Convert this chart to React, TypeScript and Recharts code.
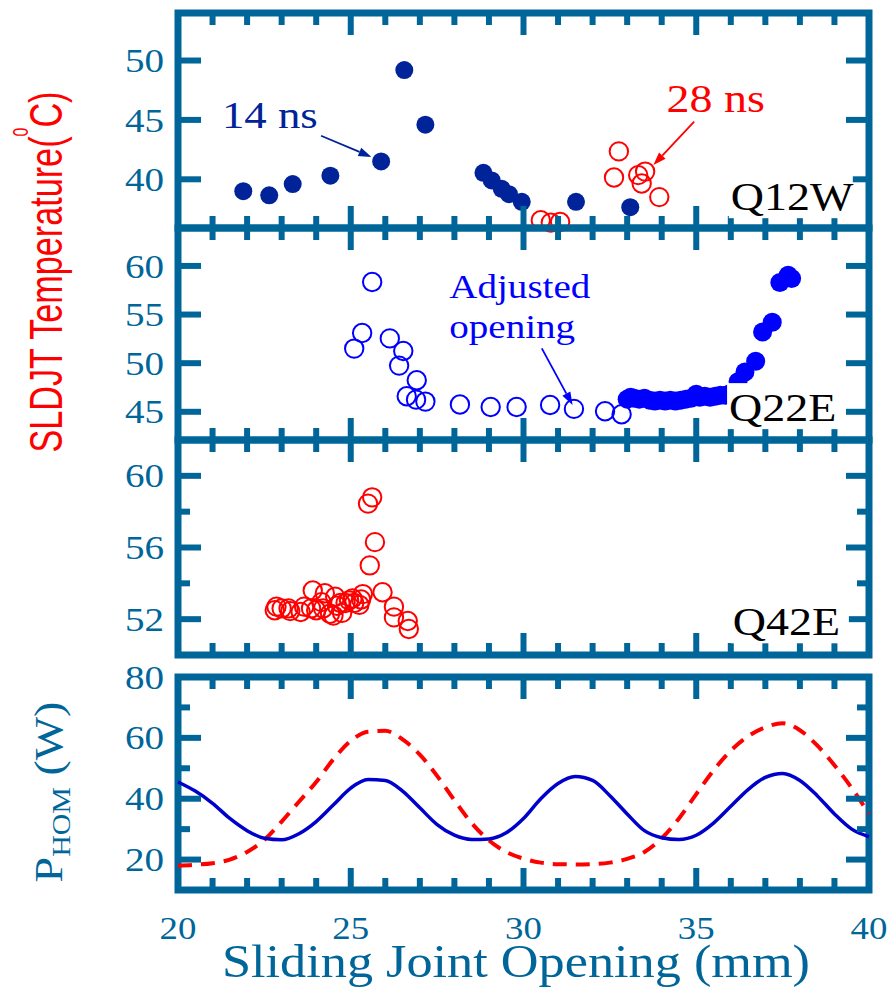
import React from 'react';
import {
  ScatterChart,
  LineChart,
  Scatter,
  Line,
  XAxis,
  YAxis,
  ReferenceArea,
  ReferenceDot,
  ReferenceLine,
} from 'recharts';

const AXIS = '#006699';
const NAVY = '#00239a';
const BLUE = '#0000ff';
const RED = '#ff0000';
const SERIF = '"Liberation Serif", "Times New Roman", serif';
const STRETCH = 1.15;

// ---------- shared x axis ----------
const xTicks = [20, 21, 22, 23, 24, 25, 26, 27, 28, 29, 30, 31, 32, 33, 34, 35, 36, 37, 38, 39, 40];
const xMajorTicks = [20, 25, 30, 35, 40];
const xTickLabels = [20, 25, 30, 35, 40];

// ---------- panel 1 : Q12W ----------
const q12wShortX = [21.89, 22.64, 23.32, 24.41, 25.88, 26.55, 27.16, 28.84, 29.08, 29.37, 29.58, 29.95, 31.52, 33.09];
const q12wShortY = [39.0, 38.65, 39.6, 40.3, 41.5, 49.2, 44.6, 40.55, 39.9, 39.2, 38.75, 38.1, 38.1, 37.65];
const q12wLongX = [30.5, 30.79, 31.06, 32.62, 32.76, 33.32, 33.42, 33.52, 33.93];
const q12wLongY = [36.55, 36.35, 36.4, 40.15, 42.35, 40.35, 39.65, 40.65, 38.5];
const p1Ticks = [40, 45, 50];
const p1Labels = [40, 45, 50];

// ---------- panel 2 : Q22E ----------
const q22eOpenX = [25.1, 25.33, 25.62, 26.13, 26.4, 26.52, 26.62, 26.89, 26.91, 27.16, 28.16, 29.05, 29.8, 30.77, 31.46, 32.36, 32.84];
const q22eOpenY = [51.5, 53.1, 58.35, 52.55, 49.75, 51.25, 46.6, 46.25, 48.25, 46.05, 45.75, 45.5, 45.5, 45.7, 45.3, 45.05, 44.75];
const q22eFillX = [33.0, 33.1, 33.2, 33.35, 33.5, 33.65, 33.8, 33.95, 34.1, 34.25, 34.4, 34.55, 34.7, 34.85, 35.0, 35.1, 35.25, 35.4, 35.55, 35.7, 35.85, 36.0, 36.21, 36.41, 36.72, 36.92, 37.2, 37.42, 37.66, 37.76];
const q22eFillY = [46.3, 46.5, 46.4, 46.3, 46.4, 46.2, 46.1, 46.2, 46.1, 46.2, 46.1, 46.2, 46.3, 46.4, 46.8, 46.5, 46.6, 46.5, 46.6, 46.7, 46.7, 46.9, 48.1, 49.1, 50.2, 53.2, 54.2, 58.3, 59.05, 58.7];
const p2Ticks = [45, 50, 55, 60];
const p2Labels = [45, 50, 55, 60];

// ---------- panel 3 : Q42E ----------
const q42eX = [22.8, 22.85, 23.0, 23.2, 23.25, 23.55, 23.65, 23.85, 23.9, 24.0, 24.15, 24.2, 24.25, 24.4, 24.5, 24.55, 24.6, 24.7, 24.75, 24.85, 24.95, 25.05, 25.1, 25.25, 25.3, 25.35, 25.55, 25.7, 25.5, 25.62, 25.92, 26.25, 26.25, 26.65, 26.68];
const q42eY = [52.5, 52.7, 52.6, 52.6, 52.45, 52.4, 52.7, 52.6, 53.6, 52.5, 52.95, 52.6, 53.45, 52.3, 52.2, 53.25, 52.75, 52.9, 52.35, 52.9, 53.05, 53.15, 52.9, 52.8, 53.1, 53.4, 55.0, 56.3, 58.45, 58.8, 53.5, 52.7, 52.1, 51.9, 51.45];
const p3Ticks = [52, 54, 56, 58, 60];
const p3Labels = [52, 56, 60];

// ---------- panel 4 : P_HOM ----------
const phomX = [20, 20.5, 21, 21.5, 22, 22.5, 23, 23.5, 24, 24.5, 25, 25.5, 26, 26.5, 27, 27.5, 28, 28.5, 29, 29.5, 30, 30.5, 31, 31.5, 32, 32.5, 33, 33.5, 34, 34.5, 35, 35.5, 36, 36.5, 37, 37.5, 38, 38.5, 39, 39.5, 40];
const phomSolid = [45.5, 42.5, 38.5, 33.5, 29.5, 27.0, 26.5, 28.5, 32.5, 38.0, 43.5, 46.3, 46.0, 42.5, 37.0, 31.5, 28.0, 26.6, 26.8, 28.8, 33.5, 40.0, 45.0, 47.3, 46.0, 41.0, 35.0, 29.5, 27.2, 26.6, 28.0, 32.0, 37.5, 43.0, 47.0, 48.3, 46.0, 41.0, 35.0, 30.0, 27.5];
const phomDashed = [18.0, 18.3, 18.8, 20.0, 22.5, 26.5, 32.5, 39.0, 45.5, 53.0, 59.0, 62.0, 62.3, 59.5, 54.5, 47.5, 39.5, 32.0, 26.3, 22.5, 20.3, 19.0, 18.5, 18.4, 18.5, 19.0, 20.2, 22.5, 27.0, 33.5, 41.5, 49.3, 55.8, 60.5, 63.5, 64.8, 62.5, 57.5, 51.0, 43.5, 35.0];
const p4Ticks = [20, 30, 40, 50, 60, 70, 80];
const p4Labels = [20, 40, 60, 80];

const zip = (xs: number[], ys: number[]) => xs.map((x, i) => ({ x, y: ys[i] }));
const phomData = phomX.map((x, i) => ({ x, solid: phomSolid[i], dashed: phomDashed[i] }));

const SText = ({ x, y, size, fill, anchor = 'start', baseline, children }: any) => (
  <text
    transform={`translate(${x},${y}) scale(${STRETCH},1)`}
    x={0}
    y={0}
    fontFamily={SERIF}
    fontSize={size}
    fill={fill}
    textAnchor={anchor}
    dominantBaseline={baseline}
  >
    {children}
  </text>
);

const makeXTick = (plotH: number, showLabels: boolean) => (props: any) => {
  const { x, y, payload } = props;
  const v = payload.value;
  const len = xMajorTicks.includes(v) ? 22 : 12;
  return (
    <g>
      <line x1={x} y1={y} x2={x} y2={y - len} stroke={AXIS} strokeWidth={6} />
      <line x1={x} y1={y - plotH} x2={x} y2={y - plotH + len} stroke={AXIS} strokeWidth={6} />
      {showLabels && xTickLabels.includes(v) ? (
        <SText x={x} y={y + 49} size={32} fill={AXIS} anchor="middle">
          {v}
        </SText>
      ) : null}
    </g>
  );
};

const makeYTick = (plotW: number, labels: number[]) => (props: any) => {
  const { x, y, payload } = props;
  const v = payload.value;
  const major = labels.includes(v);
  const len = major ? 23 : 12;
  return (
    <g>
      <line x1={x} y1={y} x2={x + len} y2={y} stroke={AXIS} strokeWidth={6} />
      <line x1={x + plotW} y1={y} x2={x + plotW - len} y2={y} stroke={AXIS} strokeWidth={6} />
      {major ? (
        <SText x={x - 14} y={y} size={34} fill={AXIS} anchor="end" baseline="central">
          {v}
        </SText>
      ) : null}
    </g>
  );
};

const Arrow = ({ x1, y1, x2, y2, color }: any) => {
  const ang = Math.atan2(y2 - y1, x2 - x1);
  const L = 13;
  const W = 4.5;
  const bx = x2 - L * Math.cos(ang);
  const by = y2 - L * Math.sin(ang);
  const px = -Math.sin(ang) * W;
  const py = Math.cos(ang) * W;
  return (
    <g>
      <line x1={x1} y1={y1} x2={bx} y2={by} stroke={color} strokeWidth={1.8} />
      <polygon points={`${x2},${y2} ${bx + px},${by + py} ${bx - px},${by - py}`} fill={color} />
    </g>
  );
};

const QLabel = ({ cx, cy, text, w }: any) => (
  <g>
    <rect x={cx - 2} y={cy - 38} width={w} height={46} fill="#ffffff" />
    <SText x={cx} y={cy} size={40} fill="#000000">
      {text}
    </SText>
  </g>
);

const openCircle = (color: string) => (p: any) => (
  <circle cx={p.cx} cy={p.cy} r={9.2} fill="none" stroke={color} strokeWidth={2} />
);
const filledCircle = (color: string, r: number) => (p: any) => (
  <circle cx={p.cx} cy={p.cy} r={r} fill={color} stroke="none" />
);

const W = 891;
const MARGIN_L = 118;
const MARGIN_R = 22;
const PLOT_W = W - MARGIN_L - MARGIN_R - 60;

const Frame = ({ y1, y2 }: any) => (
  <ReferenceArea
    x1={20}
    x2={40}
    y1={y1}
    y2={y2}
    fill="none"
    fillOpacity={0}
    stroke={AXIS}
    strokeWidth={7}
    ifOverflow="visible"
  />
);

const xAxisProps = {
  type: 'number' as const,
  dataKey: 'x',
  domain: [20, 40],
  ticks: xTicks,
  interval: 0,
  height: 1,
  tickSize: 0,
  tickMargin: 0,
  tickLine: false,
  axisLine: false,
};

const yAxisProps = {
  type: 'number' as const,
  interval: 0,
  width: 60,
  tickSize: 0,
  tickMargin: 0,
  tickLine: false,
  axisLine: false,
};

function Panel1() {
  const plotH = 215;
  return (
    <ScatterChart width={W} height={238} margin={{ top: 13, right: MARGIN_R, bottom: 9, left: MARGIN_L }}>
      <XAxis {...xAxisProps} tick={makeXTick(plotH, false)} />
      <YAxis {...yAxisProps} dataKey="y" domain={[35.9, 54]} ticks={p1Ticks} tick={makeYTick(PLOT_W, p1Labels)} />
      <Frame y1={35.9} y2={54} />
      <Scatter data={zip(q12wShortX, q12wShortY)} shape={filledCircle(NAVY, 9)} isAnimationActive={false} />
      <Scatter data={zip(q12wLongX, q12wLongY)} shape={openCircle(RED)} isAnimationActive={false} />
      <ReferenceLine
        segment={[{ x: 24.14, y: 43.67 }, { x: 25.6, y: 41.88 }]}
        ifOverflow="visible"
        shape={(p: any) => <Arrow {...p} color={NAVY} />}
      />
      <ReferenceLine
        segment={[{ x: 34.94, y: 44.85 }, { x: 33.76, y: 41.2 }]}
        ifOverflow="visible"
        shape={(p: any) => <Arrow {...p} color={RED} />}
      />
      <ReferenceDot
        x={21.27}
        y={44.3}
        r={0}
        ifOverflow="visible"
        shape={(p: any) => (
          <SText x={p.cx} y={p.cy} size={39} fill={NAVY}>
            14 ns
          </SText>
        )}
      />
      <ReferenceDot
        x={34.14}
        y={45.69}
        r={0}
        ifOverflow="visible"
        shape={(p: any) => (
          <SText x={p.cx} y={p.cy} size={40} fill={RED}>
            28 ns
          </SText>
        )}
      />
      <ReferenceDot
        x={36.0}
        y={37.4}
        r={0}
        ifOverflow="visible"
        zIndex={2000}
        shape={(p: any) => <QLabel cx={p.cx} cy={p.cy} text="Q12W" w={124} />}
      />
    </ScatterChart>
  );
}

function Panel2() {
  const plotH = 212;
  return (
    <ScatterChart width={W} height={232} margin={{ top: 10, right: MARGIN_R, bottom: 9, left: MARGIN_L }}>
      <XAxis {...xAxisProps} tick={makeXTick(plotH, false)} />
      <YAxis {...yAxisProps} dataKey="y" domain={[42.1, 63.9]} ticks={p2Ticks} tick={makeYTick(PLOT_W, p2Labels)} />
      <Frame y1={42.1} y2={63.9} />
      <Scatter data={zip(q22eOpenX, q22eOpenY)} shape={openCircle(BLUE)} isAnimationActive={false} />
      <Scatter data={zip(q22eFillX, q22eFillY)} shape={filledCircle(BLUE, 9.5)} isAnimationActive={false} />
      <ReferenceLine
        segment={[{ x: 30.53, y: 51.52 }, { x: 31.42, y: 45.69 }]}
        ifOverflow="visible"
        shape={(p: any) => <Arrow {...p} color={BLUE} />}
      />
      <ReferenceDot
        x={27.85}
        y={56.66}
        r={0}
        ifOverflow="visible"
        shape={(p: any) => (
          <SText x={p.cx} y={p.cy} size={34} fill={BLUE}>
            Adjusted
          </SText>
        )}
      />
      <ReferenceDot
        x={27.85}
        y={52.55}
        r={0}
        ifOverflow="visible"
        shape={(p: any) => (
          <SText x={p.cx} y={p.cy} size={34} fill={BLUE}>
            opening
          </SText>
        )}
      />
      <ReferenceDot
        x={35.95}
        y={44.04}
        r={0}
        ifOverflow="visible"
        zIndex={2000}
        shape={(p: any) => <QLabel cx={p.cx} cy={p.cy} text="Q22E" w={112} />}
      />
    </ScatterChart>
  );
}

function Panel3() {
  const plotH = 215;
  return (
    <ScatterChart width={W} height={235} margin={{ top: 10, right: MARGIN_R, bottom: 9, left: MARGIN_L }}>
      <XAxis {...xAxisProps} tick={makeXTick(plotH, false)} />
      <YAxis {...yAxisProps} dataKey="y" domain={[50, 62]} ticks={p3Ticks} tick={makeYTick(PLOT_W, p3Labels)} />
      <Frame y1={50} y2={62} />
      <Scatter data={zip(q42eX, q42eY)} shape={openCircle(RED)} isAnimationActive={false} />
      <ReferenceDot
        x={36.06}
        y={51.1}
        r={0}
        ifOverflow="visible"
        zIndex={2000}
        shape={(p: any) => <QLabel cx={p.cx} cy={p.cy} text="Q42E" w={118} />}
      />
    </ScatterChart>
  );
}

function Panel4() {
  const plotH = 213;
  return (
    <LineChart width={W} height={337} data={phomData} margin={{ top: 27, right: MARGIN_R, bottom: 96, left: MARGIN_L }}>
      <XAxis {...xAxisProps} tick={makeXTick(plotH, true)} />
      <YAxis {...yAxisProps} domain={[10, 80]} ticks={p4Ticks} tick={makeYTick(PLOT_W, p4Labels)} />
      <Frame y1={10} y2={80} />
      <Line
        type="monotone"
        dataKey="dashed"
        stroke={RED}
        strokeWidth={4}
        strokeDasharray="14 9"
        dot={false}
        isAnimationActive={false}
      />
      <Line
        type="monotone"
        dataKey="solid"
        stroke="#0000cc"
        strokeWidth={3.5}
        dot={false}
        isAnimationActive={false}
      />
    </LineChart>
  );
}

export default function App() {
  return (
    <div style={{ position: 'absolute', left: 0, top: 0, width: 891, height: 987, background: '#ffffff', overflow: 'hidden' }}>
      <svg width={891} height={987} style={{ position: 'absolute', left: 0, top: 0 }}>
        <text
          transform="translate(62,272) rotate(-90)"
          textAnchor="middle"
          fontFamily='"Liberation Sans Narrow", "Liberation Sans", Arial, sans-serif'
          fontSize={47}
          fill={RED}
          textLength={361}
          lengthAdjust="spacingAndGlyphs"
        >
          SLDJT Temperature(
          <tspan fontSize={22} dy={-34}>
            0
          </tspan>
          <tspan dy={34}>C)</tspan>
        </text>
        <g transform="translate(62,792) rotate(-90)">
          <text transform={`scale(${STRETCH},1)`} textAnchor="middle" fontFamily={SERIF} fontSize={40} fill={AXIS}>
            P
            <tspan fontSize={26} dy={8}>
              HOM
            </tspan>
            <tspan dy={-8}> (W)</tspan>
          </text>
        </g>
        <text
          x={516}
          y={977}
          textAnchor="middle"
          fontFamily={SERIF}
          fontSize={46}
          fill={AXIS}
          textLength={588}
          lengthAdjust="spacingAndGlyphs"
        >
          Sliding Joint Opening (mm)
        </text>
      </svg>
      <div style={{ position: 'absolute', left: 0, top: 0 }}>
        <Panel1 />
      </div>
      <div style={{ position: 'absolute', left: 0, top: 218 }}>
        <Panel2 />
      </div>
      <div style={{ position: 'absolute', left: 0, top: 430 }}>
        <Panel3 />
      </div>
      <div style={{ position: 'absolute', left: 0, top: 650 }}>
        <Panel4 />
      </div>
    </div>
  );
}
